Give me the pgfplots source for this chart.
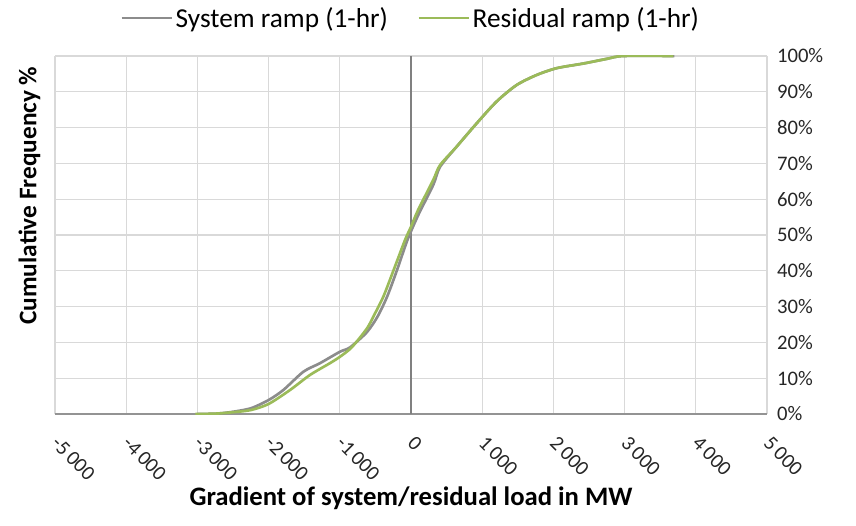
\documentclass[border=0pt]{standalone}
\usepackage{pgfplots}
\pgfplotsset{compat=1.18}
\usepackage{fontspec}
\setmainfont{Carlito}

\definecolor{sysgray}{HTML}{8C8C8C}
\definecolor{resgreen}{HTML}{9BBB59}
\definecolor{gridgray}{HTML}{D9D9D9}
\definecolor{zerogray}{HTML}{808080}

\begin{document}
\begin{tikzpicture}
  \begin{axis}[
      name=ax,
      scale only axis,
      width=534pt, height=268.5pt,
      xmin=-5000, xmax=5000,
      ymin=0, ymax=100,
      xtick={-5000,-4000,...,5000},
      xticklabels={-5\,000,-4\,000,-3\,000,-2\,000,-1\,000,0,1\,000,2\,000,3\,000,4\,000,5\,000},
      ytick={0,10,...,100},
      yticklabels={0\%,10\%,20\%,30\%,40\%,50\%,60\%,70\%,80\%,90\%,100\%},
      major tick length=0pt,
      grid=major,
      grid style={gridgray, line width=1pt},
      axis x line*=bottom,
      axis y line*=right,
      y axis line style={draw=none},
      x axis line style={draw=zerogray!85, line width=1.2pt, -},
      tick label style={font=\fontsize{15.5}{17}\selectfont, text=black!85},
      yticklabel style={anchor=west, xshift=4pt},
      xticklabel style={rotate=-45, anchor=north west, inner sep=0pt, xshift=13.8pt, yshift=-8.5pt},
      xlabel={Gradient of system/residual load in MW},
      ylabel={Cumulative Frequency \%},
      every axis x label/.style={at={(axis description cs:0.5,-0.2346)}, anchor=center,
        font=\bfseries\fontsize{20}{22}\selectfont},
      every axis y label/.style={at={(axis description cs:-0.014,0.61)}, rotate=90, anchor=south,
        font=\bfseries\fontsize{19}{21}\selectfont},
      legend style={at={(axis description cs:0.5,1.106)}, anchor=center, draw=none,
        font=\fontsize{20.5}{22}\selectfont, legend columns=2,
        /tikz/column 2/.style={column sep=20pt}},
      legend image code/.code={\draw[#1] (0pt,0pt) -- (37.5pt,0pt);},
      legend cell align=left,
    ]

    % zero line
    \addplot[zerogray, line width=1.3pt, forget plot] coordinates {(0,0) (0,100)};

    % System ramp
    \addplot[sysgray, line width=2pt, smooth, tension=0.45] coordinates {
      (-3000,0) (-2750,0.1) (-2542,0.5) (-2250,1.6) (-2000,3.9) (-1793,6.7)
      (-1512,11.8) (-1278,14.2) (-997,17.4) (-857,18.6) (-622,22.8)
      (-470,27.2) (-335,32.8) (-200,40) (-50,48.6) (100,55.5) (313,64)
      (407,69) (642,74.7) (923,81.2) (1203,87.3) (1484,91.9) (1765,94.7)
      (2046,96.6) (2421,97.9) (2749,99.2) (2983,100) (3700,100)
    };
    \addlegendentry{System ramp (1-hr)}

    % Residual ramp
    \addplot[resgreen, line width=2pt, smooth, tension=0.45] coordinates {
      (-3030,0) (-2750,0.1) (-2500,0.5) (-2250,1.1) (-2000,2.8) (-1699,6.7)
      (-1419,10.9) (-1138,14.2) (-997,16) (-833,18.6) (-622,23.8)
      (-529,27.2) (-388,32.8) (-248,40) (-84,48.6) (0,52.3) (100,57)
      (313,65.4) (407,69.5) (642,74.7) (923,81.2) (1203,87.3) (1484,91.9)
      (1765,94.7) (2046,96.6) (2421,97.9) (2749,99.2) (2983,100) (3684,100)
    };
    \addlegendentry{Residual ramp (1-hr)}

  \end{axis}
  \path ([shift={(-41.25pt,-83.25pt)}]ax.south west) rectangle ([shift={(66.75pt,42pt)}]ax.north east);
\end{tikzpicture}
\end{document}
